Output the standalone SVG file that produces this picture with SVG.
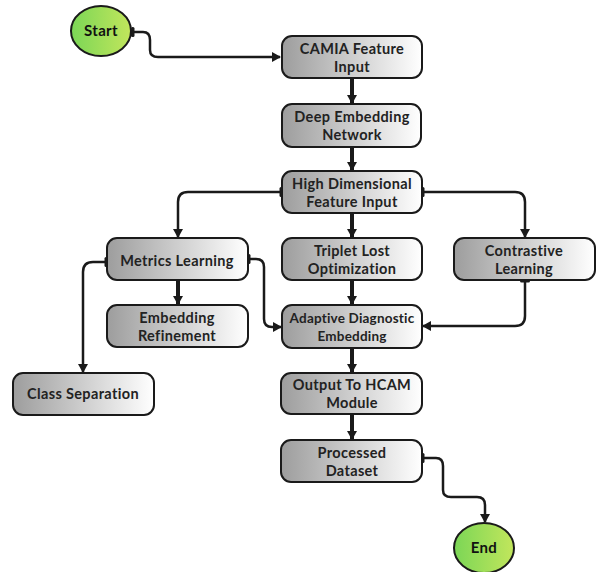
<svg xmlns="http://www.w3.org/2000/svg" width="597" height="572" viewBox="0 0 597 572">
  <style>
    .box { fill: url(#boxGrad); stroke: #1a1a1a; stroke-width: 2; }
    .term { fill: url(#termGrad); stroke: #1a1a1a; stroke-width: 2; }
    .lbl { font-family: Lato, "Open Sans", "Liberation Sans", sans-serif; font-weight: 700; font-size: 14.5px; letter-spacing: 0.35px; fill: #222; text-anchor: middle; }
    .tlbl { font-family: Lato, "Open Sans", "Liberation Sans", sans-serif; font-weight: 700; font-size: 15px; letter-spacing: 0.3px; fill: #111; text-anchor: middle; }
    .flow { fill: none; stroke: #1a1a1a; stroke-width: 2.5; }
    .main { fill: none; stroke: #1a1a1a; stroke-width: 4; }
  </style>
  <defs>
    <linearGradient id="boxGrad" x1="0" y1="0" x2="1" y2="0">
      <stop offset="0" stop-color="#9d9d9d"/>
      <stop offset="1" stop-color="#ffffff"/>
    </linearGradient>
    <linearGradient id="termGrad" x1="0" y1="0" x2="1" y2="0">
      <stop offset="0" stop-color="#7bd656"/>
      <stop offset="1" stop-color="#c2e65c"/>
    </linearGradient>
    <marker id="arrow" markerWidth="10" markerHeight="10" refX="8" refY="5" orient="auto" markerUnits="userSpaceOnUse">
      <path d="M0,0 L9,5 L0,10 Z" fill="#1a1a1a"/>
    </marker>
    <marker id="tee" markerWidth="6" markerHeight="12" refX="1" refY="6" orient="auto" markerUnits="userSpaceOnUse">
      <rect x="0" y="1" width="3.5" height="10" rx="1.5" fill="#1a1a1a"/>
    </marker>
  </defs>

  <g id="connectors">
    <!-- terminals -->
    <path class="flow" d="M132,32 H143 Q150,32 150,40 V50 Q150,57 158,57 H280" marker-start="url(#tee)" marker-end="url(#arrow)"/>
    <path class="flow" d="M422,458 H436 Q443,458 443,466 V490 Q443,497 451,497 H477 Q485,497 485,505 V522" marker-start="url(#tee)" marker-end="url(#arrow)"/>
    <!-- main spine -->
    <path class="main" d="M352,78 V103" marker-end="url(#arrow)"/>
    <path class="main" d="M352,147 V170" marker-end="url(#arrow)"/>
    <path class="main" d="M352,213 V237" marker-end="url(#arrow)"/>
    <path class="main" d="M352,280 V304" marker-end="url(#arrow)"/>
    <path class="main" d="M352,348 V372" marker-end="url(#arrow)"/>
    <path class="main" d="M352,414 V439" marker-end="url(#arrow)"/>
    <path class="main" d="M178,280 V304" marker-end="url(#arrow)"/>
    <!-- branches -->
    <path class="flow" d="M282,192 H188 Q178,192 178,202 V237" marker-start="url(#tee)" marker-end="url(#arrow)"/>
    <path class="flow" d="M422,192 H515 Q525,192 525,202 V237" marker-start="url(#tee)" marker-end="url(#arrow)"/>
    <path class="flow" d="M525,280 V316 Q525,326 515,326 H423" marker-start="url(#tee)" marker-end="url(#arrow)"/>
    <path class="flow" d="M107,262 H93 Q83,262 83,272 V372" marker-start="url(#tee)" marker-end="url(#arrow)"/>
    <path class="flow" d="M248,259 H256 Q264,259 264,267 V319 Q264,327 272,327 H281" marker-start="url(#tee)" marker-end="url(#arrow)"/>
  </g>

  <g id="start">
    <ellipse class="term" cx="101" cy="31" rx="30" ry="25"/>
    <text class="tlbl" x="101" y="36">Start</text>
  </g>
  <g id="end">
    <ellipse class="term" cx="484" cy="548" rx="30" ry="25"/>
    <text class="tlbl" x="484" y="553">End</text>
  </g>

  <g id="camia">
    <rect class="box" x="282" y="36" width="140" height="42" rx="10"/>
    <text class="lbl" x="352" y="54">CAMIA Feature</text>
    <text class="lbl" x="352" y="71.5">Input</text>
  </g>
  <g id="deep">
    <rect class="box" x="282" y="104" width="139" height="43" rx="10"/>
    <text class="lbl" x="352" y="122">Deep Embedding</text>
    <text class="lbl" x="352" y="139.5">Network</text>
  </g>
  <g id="highdim">
    <rect class="box" x="282" y="171" width="140" height="42" rx="10"/>
    <text class="lbl" x="352" y="189">High Dimensional</text>
    <text class="lbl" x="352" y="206.5">Feature Input</text>
  </g>
  <g id="triplet">
    <rect class="box" x="282" y="238" width="140" height="42" rx="10"/>
    <text class="lbl" x="352" y="256">Triplet Lost</text>
    <text class="lbl" x="352" y="273.5">Optimization</text>
  </g>
  <g id="adaptive">
    <rect class="box" x="282" y="305" width="140" height="43" rx="10"/>
    <text class="lbl" x="352" y="323" style="font-size:13.5px;letter-spacing:0.2px">Adaptive Diagnostic</text>
    <text class="lbl" x="352" y="340.5" style="font-size:13.5px;letter-spacing:0.2px">Embedding</text>
  </g>
  <g id="contrastive">
    <rect class="box" x="454" y="238" width="141" height="42" rx="10"/>
    <text class="lbl" x="524" y="256">Contrastive</text>
    <text class="lbl" x="524" y="273.5">Learning</text>
  </g>
  <g id="metrics">
    <rect class="box" x="107" y="238" width="141" height="42" rx="10"/>
    <text class="lbl" x="177" y="266">Metrics Learning</text>
  </g>
  <g id="refinement">
    <rect class="box" x="107" y="305" width="141" height="42" rx="10"/>
    <text class="lbl" x="177" y="323">Embedding</text>
    <text class="lbl" x="177" y="340.5">Refinement</text>
  </g>
  <g id="classsep">
    <rect class="box" x="13" y="373" width="141" height="42" rx="10"/>
    <text class="lbl" x="83" y="399">Class Separation</text>
  </g>
  <g id="output">
    <rect class="box" x="281" y="373" width="141" height="41" rx="10"/>
    <text class="lbl" x="352" y="390">Output To HCAM</text>
    <text class="lbl" x="352" y="407.5">Module</text>
  </g>
  <g id="processed">
    <rect class="box" x="281" y="440" width="141" height="42" rx="10"/>
    <text class="lbl" x="352" y="458">Processed</text>
    <text class="lbl" x="352" y="475.5">Dataset</text>
  </g>
</svg>
